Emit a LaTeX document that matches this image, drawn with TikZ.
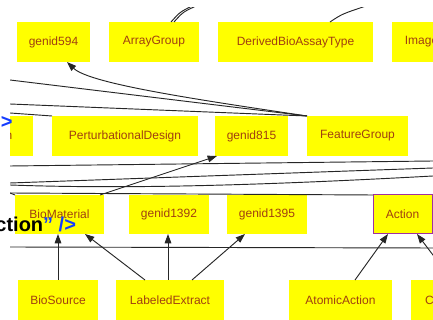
\documentclass[tikz,border=0pt]{standalone}
\usepackage{fontspec}
\setmainfont{Liberation Sans}
\usetikzlibrary{arrows.meta,calc}
\definecolor{boxyellow}{RGB}{255,255,0}
\definecolor{boxtext}{RGB}{160,64,16}
\definecolor{actborder}{RGB}{160,48,160}
\definecolor{xmlblue}{RGB}{20,60,255}
\newcommand\mkbox[7][]{\node[gbox,#1,minimum width={(#5-#3)*0.75pt},minimum height={(#6-#4)*0.75pt}] (#2) at ({(#3+#5)/2},{(#4+#6)/2}) {#7};}
\tikzset{
  gbox/.style={fill=boxyellow,draw=none,inner sep=0pt,outer sep=0pt,rectangle,
    font=\fontsize{9}{11}\selectfont,text=boxtext},
  edge/.style={draw=black!85,line width=0.7pt},
  arr/.style={edge,-{Triangle[length=7pt,width=5pt]}},
  xmltext/.style={font=\fontsize{15}{18}\selectfont\bfseries,inner sep=0pt,outer sep=0pt}
}
\begin{document}
\begin{tikzpicture}[x=0.75pt,y=-0.75pt]
\useasboundingbox (0,0) rectangle (433,320);
\begin{scope}
\clip (10,7.5) rectangle (433,320);
% row 1
\mkbox{g594}{17}{22}{90}{62}{genid594}
\mkbox{ag}{109}{22}{199}{62}{ArrayGroup}
\mkbox{dbat}{218}{22}{373}{62}{DerivedBioAssayType}
\mkbox{img}{392}{22}{451}{62}{Image}
% row 2
\mkbox{lft}{-15}{116}{33}{156}{n}
\mkbox{pd}{52}{116}{198}{156}{PerturbationalDesign}
\mkbox{g815}{215}{116}{288}{156}{genid815}
\mkbox{fg}{307}{116}{408}{156}{FeatureGroup}
% row 3
\mkbox{bm}{15}{195}{104}{234}{BioMaterial}
\mkbox{g1392}{129}{195}{209}{234}{genid1392}
\mkbox{g1395}{227}{195}{307}{234}{genid1395}
\mkbox[draw=actborder,line width=0.75pt]{act}{373}{195}{432}{234}{Action}
% row 4
\mkbox{bs}{18}{280}{98}{320}{BioSource}
\mkbox{le}{116}{280}{224}{320}{LabeledExtract}
\mkbox{aa}{289}{280}{392}{320}{AtomicAction}
\mkbox{cb}{411}{280}{448}{320}{C}
% free ends
\coordinate (t1) at (192,6);
\coordinate (t2) at (196,6);
\coordinate (t3) at (366,6);
\coordinate (la) at (10,80);
\coordinate (lb) at (10,104);
\coordinate (lc) at (10,113);
\coordinate (m1a) at (10,166);
\coordinate (m1b) at (433,161);
\coordinate (m2a) at (10,183);
\coordinate (m2b) at (433,168);
\coordinate (m3a) at (10,185);
\coordinate (m3b) at (433,176);
\coordinate (m4a) at (10,193);
\coordinate (h1) at (10,247);
\coordinate (h2) at (433,248);
% top lines
\draw[edge] ($(ag.north west)+(62,0)$) .. controls (180,12) .. (t1);
\draw[edge] ($(ag.north west)+(65,0)$) .. controls (183,12) .. (t2);
\draw[edge] ($(dbat.north west)+(112,0)$) .. controls (342,14) .. (t3);
% row1-row2
\draw[arr] (fg.north west) .. controls (200,100) and (90,84) .. ($(g594.south west)+(50,0)$);
\draw[edge] (la) -- (fg.north west);
\draw[edge] (lb) -- (fg.north west);
\draw[edge] (lc) -- (pd.north west);
% row2-row3
\draw[edge] (m1a) -- (m1b);
\draw[edge] (m2a) -- (m2b);
\draw[edge] (m3a) .. controls (120,189) and (250,186) .. (m3b);
\draw[edge] (m4a) -- (act.north west);
\draw[edge] (m4a) -- (bm.north west);
\draw[arr] ($(bm.north west)+(85,0)$) -- ($(g815.south west)+(2,0)$);
% row3-row4
\draw[edge] (h1) -- (h2);
\draw[arr] (bs.north) -- (bs.north |- bm.south);
\draw[arr] ($(le.north west)+(29,0)$) -- ($(bm.south east)+(-19,0)$);
\draw[arr] ($(le.north west)+(52,0)$) -- ($(le.north west)+(52,-46)$);
\draw[arr] ($(le.north west)+(76,0)$) -- ($(g1395.south west)+(18,0)$);
\draw[arr] ($(aa.north west)+(66,0)$) -- ($(act.south west)+(15,0)$);
\draw[arr] ($(cb.north west)+(41,0)$) -- ($(act.south east)+(-15,0)$);
\end{scope}
% overlay texts
\node[xmltext,anchor=base east] (gt) at (12.5,129) {\textcolor{xmlblue}{>}};
\node[xmltext,anchor=base east] (ct) at (76,232) {ction\textcolor{xmlblue}{" />}};
\end{tikzpicture}
\end{document}
